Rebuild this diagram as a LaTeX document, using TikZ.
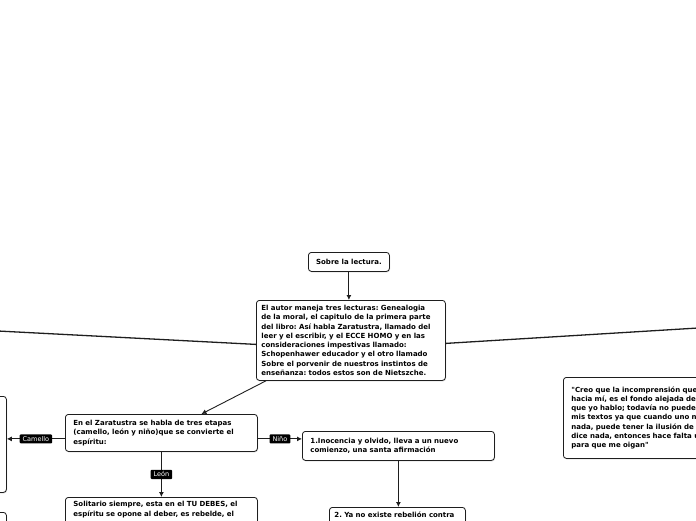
\documentclass[tikz,border=0pt]{standalone}
\usepackage{fontspec}
\usepackage{tikz}
\usetikzlibrary{arrows.meta, positioning, calc, shadows}
\newfontfamily\mapfont{DejaVu Sans}
\definecolor{inkdark}{HTML}{1E1E1E}
\definecolor{shadowgrey}{HTML}{9A9A9A}
\frenchspacing

\begin{document}
\begin{tikzpicture}[
  x=1pt, y=-1pt,
  topic/.style={draw=inkdark, fill=white, rounded corners=3pt, line width=0.8pt,
    anchor=north west, align=left, inner xsep=5pt, inner ysep=3pt,
    font=\mapfont\bfseries\fontsize{7}{9.3}\selectfont,
    drop shadow={shadow xshift=0.6pt, shadow yshift=-1pt, fill=shadowgrey, opacity=0.45}},
  tag/.style={fill=black, text=white, rounded corners=1pt, inner xsep=3pt, inner ysep=2pt,
    font=\mapfont\fontsize{6.5}{7}\selectfont},
  link/.style={inkdark, line width=0.9pt, -{Latex[length=5pt, width=5pt]}},
  branch/.style={inkdark, line width=1.3pt}
]
\useasboundingbox (0,0) rectangle (696,520);

% ---- centre ----
\node[topic, align=center, minimum width=81pt, minimum height=19pt] (lectura) at (308,252) {Sobre la lectura.};
\node[topic, text width=179pt, minimum height=80pt] (autor) at (256,300)
  {El autor maneja tres lecturas: Genealogia\\
   de la moral, el capitulo de la primera parte\\
   del libro: Así habla Zaratustra, llamado del\\
   leer y el escribir, y el ECCE HOMO y en las\\
   consideraciones impestivas llamado:\\
   Schopenhawer educador y el otro llamado\\
   Sobre el porvenir de nuestros instintos de\\
   enseñanza: todos estos son de Nietszche.};
\draw[link] (lectura.south) -- (lectura.south |- autor.north);

% side branches run off the page
\coordinate (offleft)  at (-2,331);
\coordinate (offright) at (698,328);
\draw[branch] ([yshift=-4pt]autor.west) -- (offleft);
\draw[branch] ([yshift=-3pt]autor.east) -- (offright);

% ---- the three stages ----
\node[topic, text width=176pt, inner xsep=8pt, minimum height=37pt] (etapas) at (65,414)
  {En el Zaratustra se habla de tres etapas\\
   (camello, león y niño)que se convierte el\\
   espíritu:};
\draw[link] ([xshift=10pt]autor.south west) -- ([xshift=40pt]etapas.north);

% camello box, cut by the left edge
\node[topic, minimum width=156pt, minimum height=96pt] (camello) at (-150,396) {};
\node[topic, minimum width=156pt, minimum height=60pt] (otro) at (-150,512) {};
\draw[link] ([yshift=-6pt]etapas.west) -- ([yshift=-6pt]etapas.west -| camello.east)
  node[tag, midway] {Camello};

% niño
\node[topic, text width=176pt, inner xsep=8pt, minimum height=29pt] (nino) at (302,431)
  {1.Inocencia y olvido, lleva a un nuevo\\
   comienzo, una santa afirmación};
\draw[link] ([yshift=-6pt]etapas.east) -- ([yshift=-6pt]etapas.east -| nino.west)
  node[tag, midway] {Niño};

% lower boxes run off the bottom edge
\node[topic, text width=126pt, inner xsep=5pt, inner ysep=4pt, text depth=30pt] (rebelion) at (329,507)
  {2. Ya no existe rebelión contra};
\draw[link] (nino.south) -- (nino.south |- rebelion.north);

% león
\node[topic, text width=176pt, inner xsep=8pt, inner ysep=4pt, text depth=30pt] (solitario) at (65,497)
  {Solitario siempre, esta en el TU DEBES, el\\
   espíritu se opone al deber, es rebelde, el};
\draw[link] (etapas.south) -- (etapas.south |- solitario.north)
  node[tag, midway] {León};

% ---- quote, cut by the right edge ----
\node[topic, text width=190pt, inner xsep=8pt, minimum height=81pt] (cita) at (563,377)
  {"Creo que la incomprensión que\\
   hacia mí, es el fondo alejada de\\
   que yo hablo; todavía no puede\\
   mis textos ya que cuando uno n\\
   nada, puede tener la ilusión de\\
   dice nada, entonces hace falta u\\
   para que me oigan"};
\end{tikzpicture}
\end{document}
